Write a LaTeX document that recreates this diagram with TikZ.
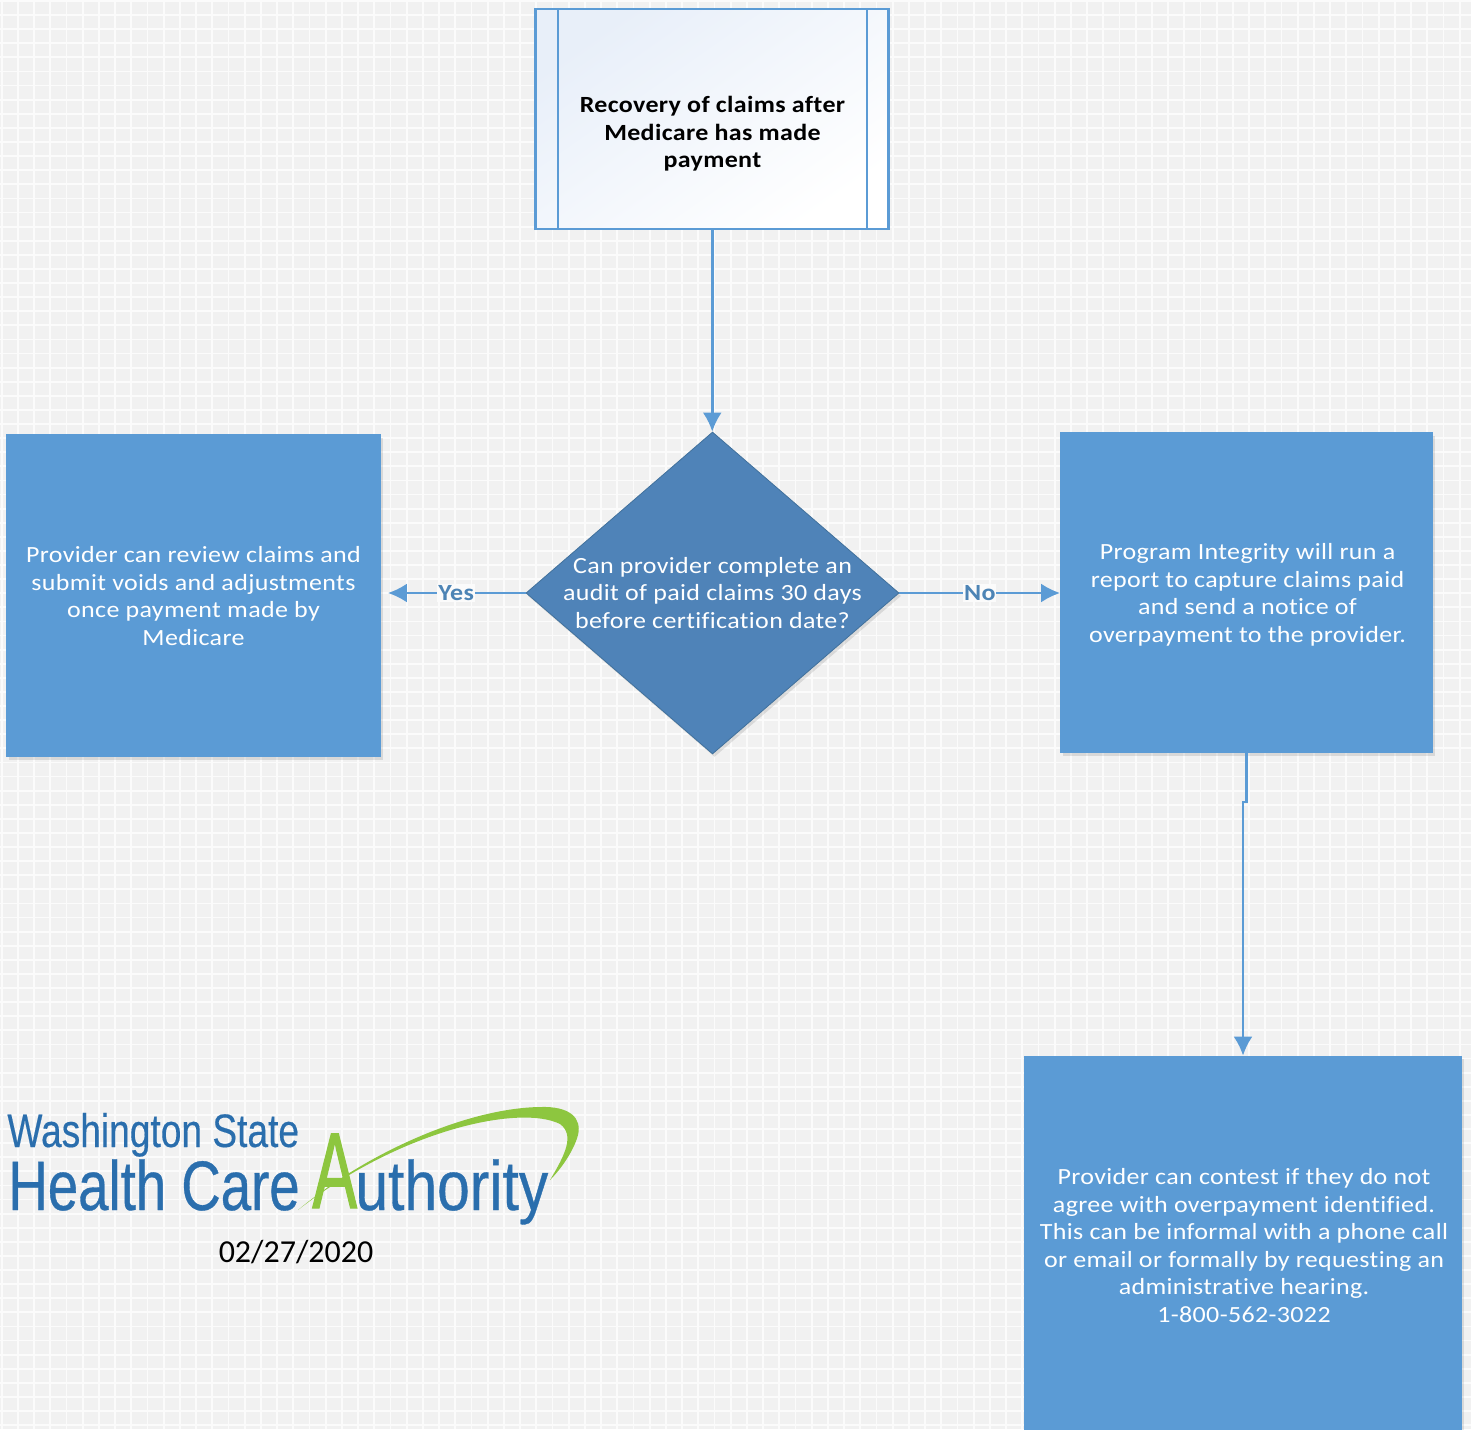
\documentclass[tikz,border=0pt]{standalone}
\usepackage{fontspec}
\usepackage{tikz}
\usetikzlibrary{arrows.meta,shapes.geometric,shadows}
\setmainfont[FakeStretch=1.12,LetterSpace=1.5,Ligatures=NoCommon]{Carlito}
\newfontfamily\datefont{Carlito}
\newfontfamily\washfont[FakeStretch=0.79,FakeBold=0.3]{Liberation Sans}
\newfontfamily\healthfont[FakeStretch=0.78,FakeBold=0.5]{Liberation Sans}
\newfontfamily\authfont[FakeStretch=0.84,FakeBold=0.5]{Liberation Sans}
\newfontfamily\afont[FakeStretch=0.62,FakeBold=1]{Liberation Sans}
\definecolor{hcaback}{RGB}{241, 241, 241}
\definecolor{hcagrid}{RGB}{251, 251, 251}
\definecolor{hcablue}{RGB}{91, 155, 213}
\definecolor{hcadark}{RGB}{79, 131, 184}
\definecolor{hcaedge}{RGB}{65, 113, 156}
\definecolor{hcatint}{RGB}{232, 239, 249}
\definecolor{hcalogo}{RGB}{42, 110, 173}
\definecolor{hcagreen}{RGB}{141, 198, 63}
\tikzset{
    softshadow/.style={general shadow={fill=black, opacity=0.1, shadow xshift=1pt, shadow yshift=-1.5pt}},
    bluebox/.style={draw=hcablue, fill=hcablue, softshadow, inner sep=0pt},
    boxtext/.style={align=center, text=white, font=\fontsize{11.6}{13.75}\selectfont, inner sep=0pt},
    titletext/.style={boxtext, text=black, font=\fontsize{11.6}{13.75}\bfseries\selectfont},
    arrowline/.style={draw=hcablue, line width=1.25pt, -{Latex[length=9.5pt,width=9.5pt]}},
    choicetext/.style={fill=hcagrid, text=hcablue!85!black, font=\fontsize{11.6}{13}\bfseries\selectfont, inner sep=0.5pt},
    logotext/.style={text=hcalogo, inner sep=0pt, anchor=base west}
}
\begin{document}
\begin{tikzpicture}[x=0.5pt, y=-0.5pt]
                    \useasboundingbox (0,0) rectangle (1471,1429);
                    \fill[hcaback] (0,0) rectangle (1471,1429);
                    \foreach \gx in {0,...,90} {
                        \draw[hcagrid, line width=0.9pt] ({1.7+16.2*\gx},0) -- ({1.7+16.2*\gx},1429);
                    }
                    \foreach \gy in {0,...,101} {
                        \draw[hcagrid, line width=0.9pt] (0,{1+14.1*\gy}) -- (1471,{1+14.1*\gy});
                    }

                    \node[draw=hcablue, line width=1.3pt, top color=hcatint, middle color=hcatint!25, bottom color=white, shading angle=35, minimum width=176.5pt, minimum height=110pt, inner sep=0pt] (recovery) at (712.25,119) {};
                    \draw[hcablue, line width=1.3pt] (558,9) -- (558,229);
                    \draw[hcablue, line width=1.3pt] (867,9) -- (867,229);
                    \node[titletext] (recoverylabel) at (712.5,134) {Recovery of claims after\\Medicare has made\\payment};

                    \node[draw=hcaedge, fill=hcadark, diamond, aspect=1.158, softshadow, minimum width=186.5pt, minimum height=161pt, inner sep=0pt] (decision) at (712.5,593) {};
                    \node[boxtext] (decisionlabel) at (712.5,593) {Can provider complete an\\audit of paid claims 30 days\\before certification date?};

                    \node[bluebox, minimum width=187pt, minimum height=161pt] (review) at (193.5,595.5) {};
                    \node[boxtext] (reviewlabel) at (193.5,596) {Provider can review claims and\\submit voids and adjustments\\once payment made by\\Medicare};

                    \node[bluebox, minimum width=186pt, minimum height=160pt] (integrity) at (1246.5,592.5) {};
                    \node[boxtext] (integritylabel) at (1247.5,595) {Program Integrity will run a\\report to capture claims paid\\and send a notice of\\overpayment to the provider.};

                    \node[bluebox, minimum width=218.5pt, minimum height=186.5pt] (contest) at (1243,1242.5) {};
                    \node[boxtext] (contestlabel) at (1244,1245.5) {Provider can contest if they do not\\agree with overpayment identified.\\This can be informal with a phone call\\or email or formally by requesting an\\administrative hearing.\\1-800-562-3022};

                    \draw[arrowline] (recovery.south) -- (recovery.south |- decision.north);
                    \draw[arrowline, shorten >=3.5pt] (decision.west) -- node[choicetext, pos=0.48] (yes) {Yes} (decision.west -| review.east);
                    \draw[arrowline] (decision.east) -- node[choicetext] (no) {No} (decision.east -| integrity.west);
                    \draw[arrowline] (integrity.south) -- ++(0,49) -| (contest.north);

                    \node[logotext, font=\fontsize{23.5}{24}\washfont] (washington) at (7,1147) {Washington State};
                    \node[logotext, font=\fontsize{35}{36}\healthfont] (health) at (8,1210) {Health Care};
                    \node[logotext, font=\fontsize{35}{36}\authfont] (authority) at (355,1210) {uthority};
                    \node[logotext, text=hcagreen, font=\fontsize{54}{55}\afont] (initial) at (312,1208) {A};
                    \fill[hcagreen] (298,1210) .. controls (370,1150) and (470,1108) .. (540,1107)
                        .. controls (570,1106) and (582,1118) .. (578,1135)
                        .. controls (574,1150) and (562,1168) .. (550,1180)
                        .. controls (565,1155) and (575,1135) .. (560,1124)
                        .. controls (520,1104) and (400,1130) .. (298,1210) -- cycle;
                    \node[inner sep=0pt, font=\fontsize{16}{17}\datefont] (date) at (296,1252) {02/27/2020};
                \end{tikzpicture}
\end{document}
